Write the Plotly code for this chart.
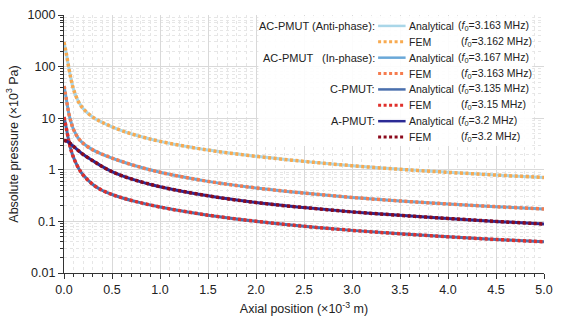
import plotly.graph_objects as go

# ---------------- data ----------------
z = [0.0, 0.025, 0.05, 0.075, 0.1, 0.15, 0.2, 0.3, 0.4, 0.5, 0.6, 0.75, 1.0,
     1.5, 2.0, 2.5, 3.0, 3.5, 4.0, 4.5, 5.0]

anti_analytical = [300, 175, 95, 55, 36, 21, 15.3, 10.5, 8.25, 6.8, 5.75, 4.67, 3.56,
                   2.41, 1.825, 1.456, 1.2, 1.023, 0.893, 0.791, 0.71]
anti_fem = [300, 175, 95, 55, 36, 21, 15.3, 10.5, 8.25, 6.8, 5.75, 4.67, 3.56,
            2.41, 1.825, 1.456, 1.2, 1.023, 0.893, 0.791, 0.71]

in_analytical = [42, 23, 12.4, 8.2, 6.0, 4.07, 3.25, 2.43, 2.0, 1.69, 1.45, 1.187, 0.895,
                 0.597, 0.445, 0.354, 0.292, 0.2486, 0.2175, 0.193, 0.174]
in_fem = [42, 23, 12.4, 8.2, 6.0, 4.07, 3.25, 2.43, 2.0, 1.69, 1.45, 1.187, 0.895,
          0.597, 0.445, 0.354, 0.292, 0.2486, 0.2175, 0.193, 0.174]

c_analytical = [10.5, 6.3, 3.6, 2.35, 1.72, 1.087, 0.79, 0.52, 0.397, 0.332, 0.288, 0.242, 0.19,
                0.132, 0.1005, 0.0805, 0.067, 0.0575, 0.0503, 0.0447, 0.0402]
c_fem = [10.5, 6.3, 3.6, 2.35, 1.72, 1.087, 0.79, 0.52, 0.397, 0.332, 0.288, 0.242, 0.19,
         0.132, 0.1005, 0.0805, 0.067, 0.0575, 0.0503, 0.0447, 0.0402]

a_analytical = [3.7, 3.6, 3.4, 3.12, 2.85, 2.35, 1.98, 1.5, 1.15, 0.92, 0.77, 0.625, 0.47,
                0.313, 0.232, 0.185, 0.153, 0.131, 0.114, 0.1, 0.089]
a_fem = [3.7, 3.6, 3.4, 3.12, 2.85, 2.35, 1.98, 1.5, 1.15, 0.92, 0.77, 0.625, 0.47,
         0.313, 0.232, 0.185, 0.153, 0.131, 0.114, 0.1, 0.089]

x_ticks = [0.0, 0.5, 1.0, 1.5, 2.0, 2.5, 3.0, 3.5, 4.0, 4.5, 5.0]
x_ticklabels = ["0.0", "0.5", "1.0", "1.5", "2.0", "2.5", "3.0", "3.5", "4.0", "4.5", "5.0"]
y_ticks = [0.01, 0.1, 1, 10, 100, 1000]
y_ticklabels = ["0.01", "0.1", "1", "10", "100", "1000"]

group_labels = ["AC-PMUT (Anti-phase):", "AC-PMUT", "C-PMUT:", "A-PMUT:"]
f0_analytical = ["3.163", "3.167", "3.135", "3.2"]
f0_fem = ["3.162", "3.163", "3.15", "3.2"]

# ---------------- styles ----------------
col_an = ["#a9d6e8", "#6aa8d8", "#4a6fad", "#2b2a95"]
col_fem = ["#f8aa50", "#f57b4e", "#e0302b", "#8c0a1c"]
FONT = "Liberation Sans, Arial, sans-serif"
DOT = "3px,2.5px"

series = [(anti_analytical, anti_fem), (in_analytical, in_fem),
          (c_analytical, c_fem), (a_analytical, a_fem)]

fig = go.Figure()
for i, (an, fe) in enumerate(series):
    fig.add_trace(go.Scatter(x=z, y=an, mode="lines",
                             line=dict(color=col_an[i], width=3, shape="spline", smoothing=1.0),
                             showlegend=False, hoverinfo="skip"))
    fig.add_trace(go.Scatter(x=z, y=fe, mode="lines",
                             line=dict(color=col_fem[i], width=3.5, dash=DOT, shape="spline", smoothing=1.0),
                             showlegend=False, hoverinfo="skip"))

# ---------------- layout ----------------
L, R, T, B = 64, 8, 14, 48
W, H = 561, 322
pw, ph = W - L - R, H - T - B


def px(x):
    return (x - L) / pw


def py(y):
    return (H - B - y) / ph


minor_y = [m * 10 ** e for e in range(-2, 3) for m in range(2, 10)]

fig.update_layout(
    width=W, height=H,
    margin=dict(l=L, r=R, t=T, b=B),
    paper_bgcolor="white", plot_bgcolor="white",
    font=dict(family=FONT, size=12.5, color="#222"),
    xaxis=dict(
        range=[0, 5], tickvals=x_ticks, ticktext=x_ticklabels,
        ticks="outside", ticklen=5, tickwidth=1, tickcolor="#333",
        ticklabeloverflow="allow",
        showline=True, linecolor="#333", linewidth=1.2,
        showgrid=True, gridcolor="#d9d9d9", gridwidth=1,
        zeroline=False,
        minor=dict(dtick=0.1, ticks="outside", ticklen=3, tickcolor="#333",
                   showgrid=True, gridcolor="#e6e6e6", griddash="dot"),
        title=dict(text="Axial position (×10<sup>-3</sup> m)", font=dict(size=12.5), standoff=8),
        tickfont=dict(size=12.5),
    ),
    yaxis=dict(
        type="log", range=[-2, 3], tickvals=y_ticks, ticktext=y_ticklabels,
        ticks="outside", ticklen=5, tickwidth=1, tickcolor="#333",
        ticklabeloverflow="allow",
        showline=True, linecolor="#333", linewidth=1.2,
        showgrid=True, gridcolor="#d9d9d9", gridwidth=1,
        zeroline=False,
        minor=dict(tickvals=minor_y, ticks="outside", ticklen=3, tickcolor="#333",
                   showgrid=True, gridcolor="#e6e6e6", griddash="dot"),
        title=dict(text="Absolute pressure (×10<sup>3</sup> Pa)", font=dict(size=12.5), standoff=6),
        tickfont=dict(size=12.5),
    ),
)

# ---------------- hand-built legend ----------------
shapes = [dict(type="rect", xref="paper", yref="paper",
               x0=px(262), x1=px(541), y0=py(146), y1=py(15),
               fillcolor="rgba(255,255,255,0.9)", line=dict(width=0), layer="above")]
annotations = []
row0, dy = 25, 16
GF = dict(family=FONT, size=11, color="#222")
LF = dict(family=FONT, size=10.5, color="#222")
for i in range(4):
    ya = row0 + dy * (2 * i)
    yf = row0 + dy * (2 * i + 1)
    shapes.append(dict(type="line", xref="paper", yref="paper",
                       x0=px(384), x1=px(412), y0=py(ya), y1=py(ya),
                       line=dict(color=col_an[i], width=2.5), layer="above"))
    shapes.append(dict(type="line", xref="paper", yref="paper",
                       x0=px(384), x1=px(412), y0=py(yf), y1=py(yf),
                       line=dict(color=col_fem[i], width=3, dash=DOT), layer="above"))
    annotations.append(dict(text="Analytical", x=px(413), y=py(ya), xref="paper", yref="paper",
                            xanchor="left", yanchor="middle", showarrow=False, font=LF))
    annotations.append(dict(text="FEM", x=px(413), y=py(yf), xref="paper", yref="paper",
                            xanchor="left", yanchor="middle", showarrow=False, font=LF))
    annotations.append(dict(text="(<i>f</i><sub>0</sub>=" + f0_analytical[i] + " MHz)",
                            x=px(463), y=py(ya), xref="paper", yref="paper",
                            xanchor="left", yanchor="middle", showarrow=False, font=LF))
    annotations.append(dict(text="(<i>f</i><sub>0</sub>=" + f0_fem[i] + " MHz)",
                            x=px(466), y=py(yf), xref="paper", yref="paper",
                            xanchor="left", yanchor="middle", showarrow=False, font=LF))
    if i == 1:
        annotations.append(dict(text=group_labels[i], x=px(265), y=py(ya), xref="paper", yref="paper",
                                xanchor="left", yanchor="middle", showarrow=False, font=GF))
        annotations.append(dict(text="(In-phase):", x=px(383), y=py(ya), xref="paper", yref="paper",
                                xanchor="right", yanchor="middle", showarrow=False, font=GF))
    else:
        annotations.append(dict(text=group_labels[i], x=px(383), y=py(ya), xref="paper", yref="paper",
                                xanchor="right", yanchor="middle", showarrow=False, font=GF))

fig.update_layout(shapes=shapes, annotations=annotations)

fig.write_html("out.html")
